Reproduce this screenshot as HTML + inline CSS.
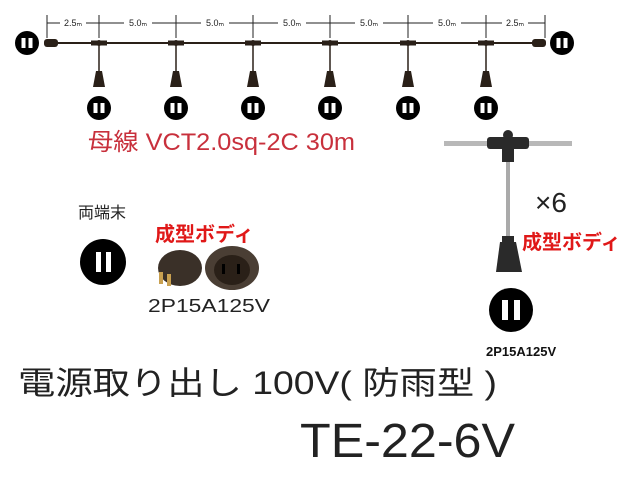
<!DOCTYPE html>
<html><head><meta charset="utf-8"><style>
body{margin:0;background:#fff;width:640px;height:480px;overflow:hidden}
svg{display:block}
text{font-family:"Liberation Sans","Noto Sans CJK JP",sans-serif}
</style></head><body>
<svg width="640" height="480" viewBox="0 0 640 480">
<defs>
<g id="sock"><circle r="12" fill="#000"/><rect x="-5.5" y="-5" width="4" height="10" fill="#fff"/><rect x="1.5" y="-5" width="4" height="10" fill="#fff"/></g>
<g id="drop"><rect x="-8" y="-2.5" width="16" height="5" fill="#2a2018"/><circle r="3" fill="#2a2018"/><line x1="0" y1="0" x2="0" y2="28" stroke="#2a2018" stroke-width="1.5"/><path d="M-3,28 L3,28 L6,44 L-6,44 Z" fill="#2a2018"/></g>
</defs>
<g stroke="#222" stroke-width="1" fill="none">
<line x1="47" y1="23" x2="545" y2="23"/>
<line x1="47" y1="15" x2="47" y2="38"/><line x1="545" y1="15" x2="545" y2="38"/>
<line x1="99" y1="15" x2="99" y2="38"/><line x1="176" y1="15" x2="176" y2="38"/>
<line x1="253" y1="15" x2="253" y2="38"/><line x1="330" y1="15" x2="330" y2="38"/>
<line x1="408" y1="15" x2="408" y2="38"/><line x1="486" y1="15" x2="486" y2="38"/>
</g>
<g font-size="9" fill="#222" text-anchor="middle">
<rect x="60" y="17" width="26" height="12" fill="#fff"/><text x="73" y="26">2.5ₘ</text>
<rect x="124" y="17" width="28" height="12" fill="#fff"/><text x="138" y="26">5.0ₘ</text>
<rect x="201" y="17" width="28" height="12" fill="#fff"/><text x="215" y="26">5.0ₘ</text>
<rect x="278" y="17" width="28" height="12" fill="#fff"/><text x="292" y="26">5.0ₘ</text>
<rect x="355" y="17" width="28" height="12" fill="#fff"/><text x="369" y="26">5.0ₘ</text>
<rect x="433" y="17" width="28" height="12" fill="#fff"/><text x="447" y="26">5.0ₘ</text>
<rect x="502" y="17" width="26" height="12" fill="#fff"/><text x="515" y="26">2.5ₘ</text>
</g>
<line x1="45" y1="43" x2="545" y2="43" stroke="#2a2018" stroke-width="2"/>
<rect x="44" y="39" width="14" height="8" rx="3" fill="#2a2018"/>
<rect x="532" y="39" width="14" height="8" rx="3" fill="#2a2018"/>
<use href="#sock" x="27" y="43"/><use href="#sock" x="562" y="43"/>
<use href="#drop" x="99" y="43"/><use href="#drop" x="176" y="43"/><use href="#drop" x="253" y="43"/>
<use href="#drop" x="330" y="43"/><use href="#drop" x="408" y="43"/><use href="#drop" x="486" y="43"/>
<use href="#sock" x="99" y="108"/><use href="#sock" x="176" y="108"/><use href="#sock" x="253" y="108"/>
<use href="#sock" x="330" y="108"/><use href="#sock" x="408" y="108"/><use href="#sock" x="486" y="108"/>
<text x="88" y="150" font-size="24" fill="#c8303c" textLength="267" lengthAdjust="spacingAndGlyphs">母線 VCT2.0sq-2C 30m</text>
<text x="78" y="218" font-size="16" fill="#222">両端末</text>
<circle cx="103" cy="262" r="23" fill="#000"/>
<rect x="96" y="252" width="5" height="20" fill="#fff"/><rect x="106" y="252" width="5" height="20" fill="#fff"/>
<text x="155" y="241" font-size="20" font-weight="bold" fill="#e01818">成型ボディ</text>
<ellipse cx="180" cy="268" rx="22" ry="18" fill="#3a3028"/>
<rect x="159" y="272" width="4" height="12" fill="#c8a050"/><rect x="167" y="274" width="4" height="12" fill="#c8a050"/>
<ellipse cx="232" cy="268" rx="27" ry="22" fill="#4a3e34"/>
<ellipse cx="232" cy="270" rx="18" ry="15" fill="#2a2018"/>
<rect x="222" y="264" width="3" height="10" fill="#000"/><rect x="237" y="264" width="3" height="10" fill="#000"/>
<text x="148" y="312" font-size="18" fill="#222" textLength="122" lengthAdjust="spacingAndGlyphs">2P15A125V</text>
<rect x="444" y="141" width="128" height="5" fill="#b8b8b8"/>
<rect x="487" y="137" width="42" height="12" rx="3" fill="#2a2a2a"/>
<circle cx="508" cy="135" r="5" fill="#2a2a2a"/>
<rect x="502" y="148" width="12" height="14" fill="#2a2a2a"/>
<rect x="506" y="162" width="4" height="76" fill="#aaa"/>
<rect x="502" y="236" width="12" height="6" fill="#2a2a2a"/>
<path d="M500,242 L516,242 L522,272 L496,272 Z" fill="#2a2a2a"/>
<text x="535" y="212" font-size="28" fill="#222">×6</text>
<text x="522" y="249" font-size="20" font-weight="bold" fill="#e01818">成型ボディ</text>
<circle cx="511" cy="310" r="22" fill="#000"/>
<rect x="502" y="300" width="6" height="20" fill="#fff"/><rect x="514" y="300" width="6" height="20" fill="#fff"/>
<text x="486" y="356" font-size="13" font-weight="bold" fill="#111">2P15A125V</text>
<text x="18" y="394" font-size="32" fill="#222" textLength="479" lengthAdjust="spacingAndGlyphs">電源取り出し 100V( 防雨型 )</text>
<text x="300" y="457" font-size="48" fill="#222" textLength="215" lengthAdjust="spacingAndGlyphs">TE-22-6V</text>
</svg>
</body></html>
